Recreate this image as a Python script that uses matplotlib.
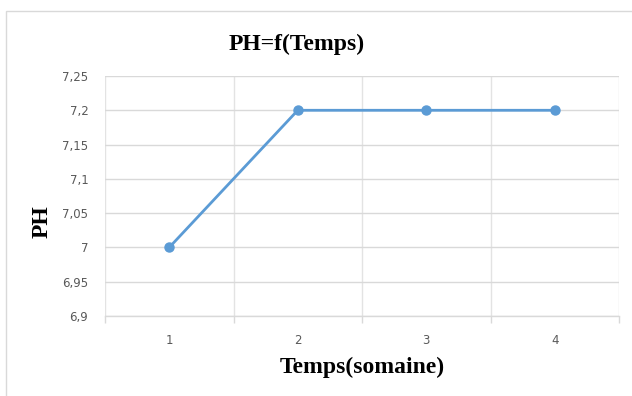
import matplotlib
matplotlib.use("Agg")
import matplotlib.pyplot as plt
from matplotlib.patches import Rectangle
from matplotlib.ticker import FixedLocator, FuncFormatter

categories = ["1", "2", "3", "4"]
ph_values = [7.0, 7.2, 7.2, 7.2]
y_ticks = [6.9, 6.95, 7.0, 7.05, 7.1, 7.15, 7.2, 7.25]

W, H = 632, 396
fig = plt.figure(figsize=(W / 100, H / 100), dpi=100)
fig.patch.set_facecolor("white")

# outer chart border
fig.patches.append(Rectangle((6 / W, -0.05), 1.2, 1 - 11 / H + 0.05, transform=fig.transFigure,
                             fill=False, edgecolor="#D9D9D9", linewidth=1.0))

left, right, top, bottom = 105, 619, 76, 316
ax = fig.add_axes([left / W, 1 - bottom / H, (right - left) / W, (bottom - top) / H])

x = list(range(len(categories)))
ax.plot(x, ph_values, color="#5B9BD5", linewidth=2.0, marker="o", markersize=6.5,
        markerfacecolor="#5B9BD5", markeredgecolor="#5B9BD5", zorder=3)

ax.set_xlim(-0.5, len(categories) - 0.5)
ax.set_ylim(6.9, 7.25)
ax.set_yticks(y_ticks)
ax.yaxis.set_major_formatter(FuncFormatter(lambda v, p: ("%g" % round(v, 2)).replace(".", ",")))
ax.set_xticks(x)
ax.set_xticklabels(categories)
ax.xaxis.set_minor_locator(FixedLocator([i - 0.5 for i in range(len(categories) + 1)]))

ax.grid(axis="y", which="major", color="#D9D9D9", linewidth=1.0)
ax.grid(axis="x", which="minor", color="#E3E3E3", linewidth=1.0)
ax.set_axisbelow(True)

for s in ["top", "right", "left"]:
    ax.spines[s].set_visible(False)
ax.spines["bottom"].set_color("#D9D9D9")
ax.spines["bottom"].set_linewidth(1.0)

ax.tick_params(axis="y", length=0, pad=12, labelsize=8.5, labelcolor="#595959")
ax.tick_params(axis="x", which="major", length=0, pad=13, labelsize=8.5, labelcolor="#595959")
ax.tick_params(axis="x", which="minor", length=5, color="#D9D9D9", width=1.0)
for lab in ax.get_xticklabels() + ax.get_yticklabels():
    lab.set_family("DejaVu Sans")

fig.text(297 / W, 1 - 44 / H, "PH=f(Temps)", ha="center", va="center",
         family="Liberation Serif", fontweight="bold", fontsize=17)
fig.text(362 / W, 1 - 367 / H, "Temps(somaine)", ha="center", va="center",
         family="Liberation Serif", fontweight="bold", fontsize=17)
fig.text(42 / W, 1 - 222 / H, "PH", ha="center", va="center", rotation=90,
         family="Liberation Serif", fontweight="bold", fontsize=17)

fig.savefig("out.png", dpi=100)
